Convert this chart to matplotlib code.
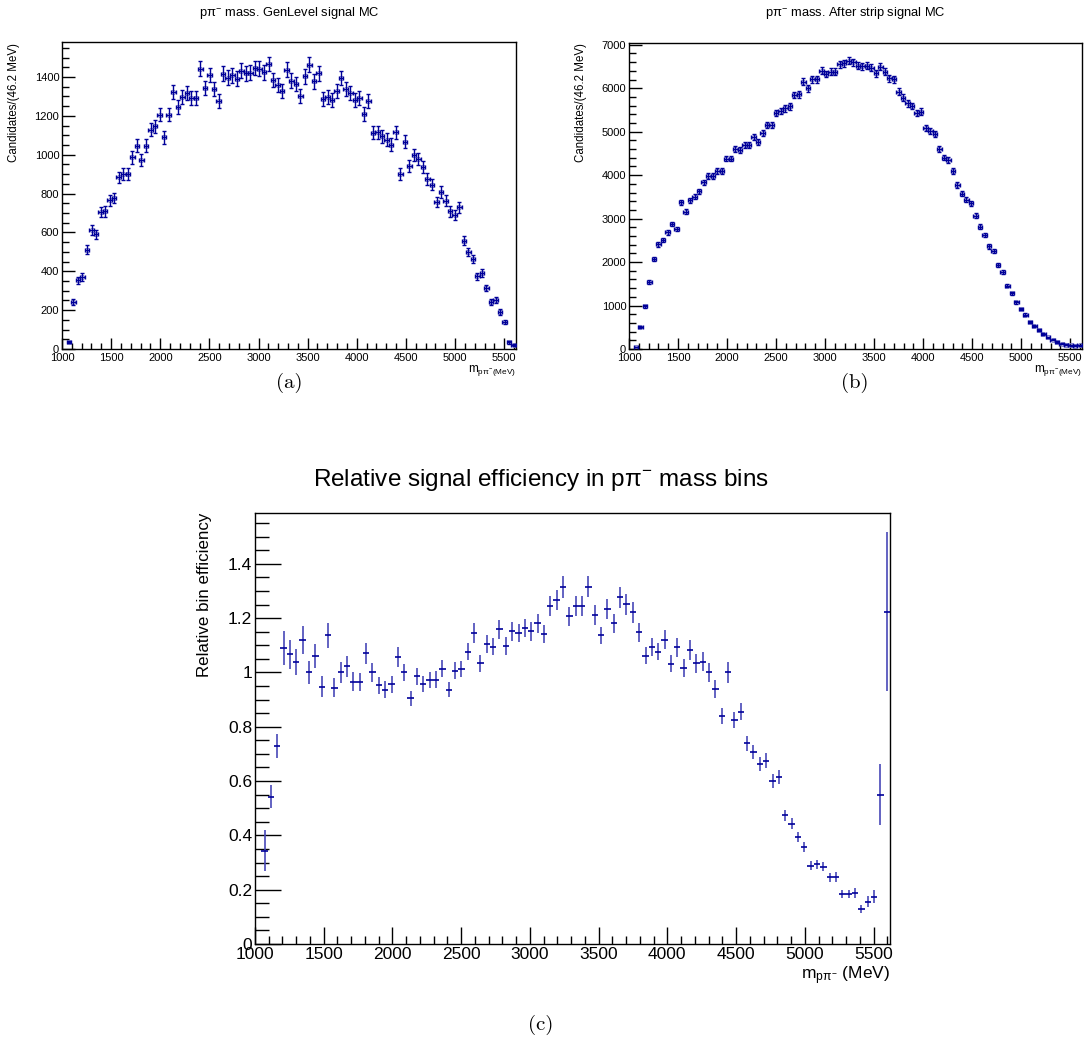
import numpy as np
import matplotlib
matplotlib.use("Agg")
import matplotlib.pyplot as plt
from matplotlib.ticker import MultipleLocator, FuncFormatter

plt.rcParams['font.family'] = ['Liberation Sans', 'DejaVu Sans']
plt.rcParams['mathtext.fontset'] = 'custom'
plt.rcParams['mathtext.rm'] = 'Liberation Sans'
plt.rcParams['mathtext.it'] = 'Liberation Sans'
plt.rcParams['mathtext.sf'] = 'Liberation Sans'
plt.rcParams['mathtext.bf'] = 'Liberation Sans:bold'

# ---------------- data ----------------
x_lo, x_hi, n_bins = 1000.0, 5620.0, 100
bin_width = 46.2

gen_counts = [np.nan, 36, 243, 353, 370, 511, 612, 590, 705, 708,
              765, 777, 883, 900, 900, 986, 1046, 971, 1046, 1129,
              1146, 1206, 1089, 1206, 1324, 1245, 1295, 1317, 1292, 1292,
              1443, 1343, 1410, 1338, 1278, 1417, 1396, 1408, 1391, 1432,
              1419, 1422, 1446, 1443, 1424, 1467, 1384, 1358, 1329, 1437,
              1381, 1365, 1304, 1403, 1463, 1377, 1419, 1285, 1295, 1280,
              1326, 1395, 1338, 1317, 1283, 1290, 1209, 1276, 1112, 1115,
              1094, 1077, 1051, 1115, 900, 1067, 943, 997, 978, 935,
              876, 846, 756, 808, 763, 708, 688, 729, 557, 499,
              463, 374, 391, 314, 242, 250, 190, 139, 34, 22]

strip_counts = [np.nan, 50, 498, 980, 1540, 2068, 2405, 2512, 2681, 2872,
                2757, 3378, 3163, 3424, 3500, 3630, 3837, 3983, 3983, 4090,
                4090, 4381, 4381, 4595, 4588, 4695, 4695, 4871, 4772, 4978,
                5155, 5155, 5423, 5476, 5537, 5584, 5844, 5859, 6150, 5997,
                6204, 6204, 6403, 6326, 6380, 6380, 6548, 6571, 6633, 6594,
                6518, 6510, 6518, 6472, 6341, 6495, 6380, 6227, 6204, 5920,
                5782, 5652, 5591, 5423, 5461, 5078, 5024, 4940, 4595, 4404,
                4350, 4098, 3776, 3569, 3431, 3355, 3071, 2818, 2619, 2359,
                2259, 1930, 1769, 1455, 1287, 1072, 919, 789, 620, 536,
                429, 345, 268, 214, 161, 123, 100, 84, 77, 84]

rel_eff = [np.nan, 0.343, 0.543, 0.729, 1.089, 1.067, 1.038, 1.120, 1.000, 1.061,
           0.948, 1.136, 0.944, 1.000, 1.022, 0.966, 0.966, 1.071, 1.000, 0.952,
           0.936, 0.957, 1.056, 1.000, 0.905, 0.985, 0.958, 0.973, 0.973, 1.013,
           0.936, 1.006, 1.012, 1.077, 1.145, 1.034, 1.104, 1.095, 1.159, 1.098,
           1.151, 1.146, 1.164, 1.151, 1.181, 1.141, 1.243, 1.267, 1.314, 1.206,
           1.243, 1.246, 1.316, 1.212, 1.136, 1.233, 1.181, 1.276, 1.251, 1.221,
           1.147, 1.062, 1.095, 1.077, 1.120, 1.032, 1.092, 1.016, 1.083, 1.034,
           1.040, 1.000, 0.938, 0.840, 1.000, 0.825, 0.855, 0.739, 0.706, 0.663,
           0.675, 0.600, 0.614, 0.474, 0.442, 0.395, 0.356, 0.289, 0.293, 0.285,
           0.246, 0.246, 0.184, 0.184, 0.187, 0.130, 0.156, 0.174, 0.550, 1.224]

xticks_major = [1000, 1500, 2000, 2500, 3000, 3500, 4000, 4500, 5000, 5500]

# --------------- derived ---------------
centers = x_lo + bin_width * (np.arange(n_bins) + 0.5)
a = np.array(gen_counts, dtype=float)
b = np.array(strip_counts, dtype=float)
c = np.array(rel_eff, dtype=float)
a_err = np.sqrt(a)
b_err = np.sqrt(b)
c_err = c * np.sqrt(1.0 / a + 1.0 / b)

W, H = 1084, 1039
fig = plt.figure(figsize=(W / 100, H / 100), dpi=100)


def ax_rect(l, r, t, btm):
    return [l / W, 1 - btm / H, (r - l) / W, (btm - t) / H]


DARK = '#000099'
LIGHT = '#8080cc'


def fmt_g(v, pos):
    return '%g' % round(v, 6)


def style_axes(ax, ymajor, yminor, tick_fs, maj_len_y, min_len_y, maj_len_x, min_len_x, xpad):
    ax.set_xlim(x_lo, x_hi)
    ax.set_xticks(xticks_major)
    ax.xaxis.set_minor_locator(MultipleLocator(100))
    ax.yaxis.set_major_locator(MultipleLocator(ymajor))
    ax.yaxis.set_minor_locator(MultipleLocator(yminor))
    ax.yaxis.set_major_formatter(FuncFormatter(fmt_g))
    ax.tick_params(axis='both', which='both', direction='in', top=False, right=False,
                   labelsize=tick_fs, width=1.0, color='black')
    ax.tick_params(axis='y', which='major', length=maj_len_y, pad=2)
    ax.tick_params(axis='y', which='minor', length=min_len_y)
    ax.tick_params(axis='x', which='major', length=maj_len_x, pad=xpad)
    ax.tick_params(axis='x', which='minor', length=min_len_x)
    for sp in ax.spines.values():
        sp.set_linewidth(1.0)


def draw_hist(ax, y, yerr):
    ax.plot(centers, y, 'o', ms=3.0, mfc='none', mec=LIGHT, mew=0.7, zorder=2)
    eb = ax.errorbar(centers, y, xerr=bin_width / 2, yerr=yerr, fmt='none',
                     ecolor=DARK, elinewidth=1.0, capsize=1.6, capthick=1.0, zorder=3)
    for cl in eb[1]:
        cl.set_color(LIGHT)


# ---- panel (a) ----
ax_a = fig.add_axes(ax_rect(62, 516, 42, 349))
draw_hist(ax_a, a, a_err)
ax_a.set_ylim(0, 1580)
style_axes(ax_a, 200, 50, 8, 9, 5, 8, 4, 3)
fig.text(289 / W, 1 - 13 / H, 'p\u03c0$^{-}$ mass. GenLevel signal MC', ha='center', va='center', fontsize=9.3)
fig.text(14 / W, 1 - 43 / H, 'Candidates/(46.2 MeV)', rotation=90, ha='center', va='top', fontsize=8.3)
fig.text(516 / W, 1 - 371 / H, r'm$_{\mathrm{p}\pi^{-}\mathrm{(MeV)}}$', ha='right', va='center', fontsize=8.5)

# ---- panel (b) ----
ax_b = fig.add_axes(ax_rect(629, 1082, 43, 349))
draw_hist(ax_b, b, b_err)
ax_b.set_ylim(0, 7040)
style_axes(ax_b, 1000, 200, 8, 9, 5, 8, 4, 3)
fig.text(855 / W, 1 - 13 / H, 'p\u03c0$^{-}$ mass. After strip signal MC', ha='center', va='center', fontsize=9.3)
fig.text(581 / W, 1 - 43 / H, 'Candidates/(46.2 MeV)', rotation=90, ha='center', va='top', fontsize=8.3)
fig.text(1082 / W, 1 - 371 / H, r'm$_{\mathrm{p}\pi^{-}\mathrm{(MeV)}}$', ha='right', va='center', fontsize=8.5)

# ---- panel (c) ----
ax_c = fig.add_axes(ax_rect(255, 890, 513, 944))
ax_c.errorbar(centers, c, yerr=c_err, fmt='none', ecolor='#4848b8', elinewidth=1.2, capsize=0, zorder=2)
ax_c.errorbar(centers, c, xerr=bin_width / 2, fmt='none', ecolor=DARK, elinewidth=1.2, capsize=0, zorder=3)
ax_c.set_ylim(0, 1.587)
style_axes(ax_c, 0.2, 0.05, 12.5, 19, 10, 12, 6, 2)
fig.text(541 / W, 1 - 480 / H, 'Relative signal efficiency in p\u03c0$^{-}$ mass bins', ha='center', va='center', fontsize=17.5)
fig.text(204 / W, 1 - 513 / H, 'Relative bin efficiency', rotation=90, ha='center', va='top', fontsize=12.2)
fig.text(890 / W, 1 - 976 / H, r'm$_{\mathrm{p}\pi^{-}}$ (MeV)', ha='right', va='center', fontsize=12.5)

# ---- captions ----
for xc, yc, lab in [(289, 383, '(a)'), (855, 383, '(b)'), (541, 1025, '(c)')]:
    fig.text(xc / W, 1 - yc / H, lab, ha='center', va='center', fontsize=15, family='cmr10')

fig.savefig('out.png', dpi=100)
